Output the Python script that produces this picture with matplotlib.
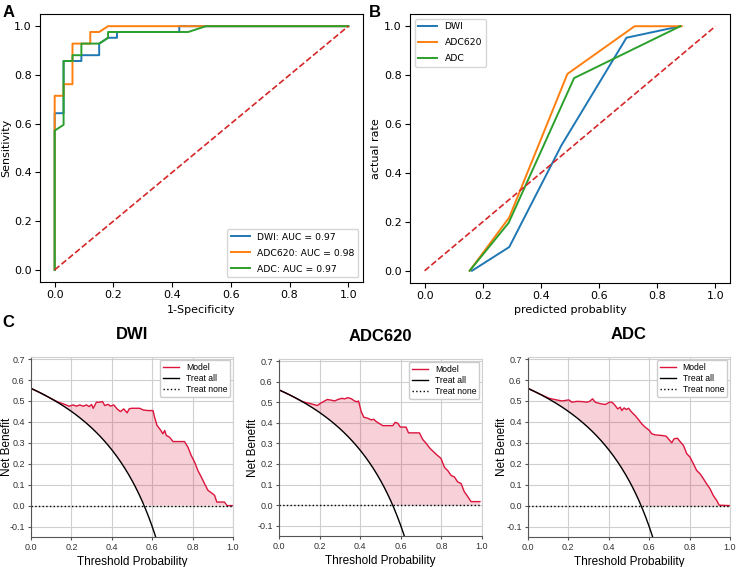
import numpy as np
import matplotlib
matplotlib.use('Agg')
import matplotlib.pyplot as plt

plt.rcParams['axes.unicode_minus'] = False

# ROC curves (33 negatives, 42 positives)
roc_names = ['DWI', 'ADC620', 'ADC']
roc_auc = [0.97, 0.98, 0.97]
dwi_fpr = np.array([0, 0, 1, 1, 3, 3, 5, 5, 6, 7, 7, 14, 14, 33]) / 33
dwi_tpr = np.array([0, 27, 27, 36, 36, 37, 37, 39, 40, 40, 41, 41, 42, 42]) / 42
adc620_fpr = np.array([0, 0, 1, 1, 2, 2, 4, 4, 5, 6, 33]) / 33
adc620_tpr = np.array([0, 30, 30, 32, 32, 39, 39, 41, 41, 42, 42]) / 42
adc_fpr = np.array([0, 0, 1, 1, 2, 2, 3, 3, 5, 6, 6, 15, 17, 33]) / 33
adc_tpr = np.array([0, 24, 25, 36, 36, 37, 37, 39, 39, 40, 41, 41, 42, 42]) / 42

# calibration curves
dwi_pred = [0.163, 0.291, 0.47, 0.694, 0.879]
dwi_actual = [0.0, 0.097, 0.512, 0.953, 1.0]
adc620_pred = [0.155, 0.291, 0.491, 0.722, 0.884]
adc620_actual = [0.0, 0.218, 0.805, 1.0, 1.0]
adc_pred = [0.155, 0.289, 0.514, 0.879]
adc_actual = [0.0, 0.196, 0.788, 1.0]

# decision curves
prevalence = 42 / 75
dwi_thr = [0, 0.05, 0.1, 0.135, 0.16, 0.189, 0.209, 0.225, 0.242, 0.258, 0.275, 0.288, 0.3, 0.308,
           0.324, 0.341, 0.354, 0.365, 0.382, 0.393, 0.41, 0.426, 0.443, 0.459, 0.476, 0.486, 0.497,
           0.538, 0.555, 0.579, 0.604, 0.612, 0.624, 0.64, 0.653, 0.662, 0.67, 0.686, 0.703, 0.76,
           0.777, 0.793, 0.81, 0.826, 0.843, 0.859, 0.876, 0.892, 0.909, 0.92, 0.958, 0.97, 1.0]
dwi_nb = [0.56, 0.537, 0.511, 0.494, 0.486, 0.475, 0.481, 0.475, 0.481, 0.475, 0.481, 0.473, 0.483, 0.465,
          0.494, 0.494, 0.497, 0.478, 0.484, 0.475, 0.481, 0.462, 0.449, 0.462, 0.443, 0.462, 0.465,
          0.465, 0.457, 0.454, 0.454, 0.422, 0.383, 0.363, 0.343, 0.359, 0.335, 0.327, 0.306, 0.306,
          0.279, 0.24, 0.208, 0.168, 0.137, 0.105, 0.073, 0.062, 0.049, 0.017, 0.017, 0.0, 0.0]
adc620_thr = [0, 0.05, 0.1, 0.118, 0.151, 0.189, 0.208, 0.238, 0.257, 0.274, 0.29, 0.31, 0.323, 0.339,
              0.356, 0.372, 0.385, 0.392, 0.405, 0.418, 0.438, 0.454, 0.467, 0.479, 0.511, 0.561, 0.572,
              0.585, 0.598, 0.626, 0.638, 0.692, 0.708, 0.725, 0.741, 0.757, 0.779, 0.798, 0.815, 0.831,
              0.848, 0.864, 0.88, 0.897, 0.913, 0.93, 0.946, 0.99]
adc620_nb = [0.56, 0.537, 0.511, 0.502, 0.494, 0.484, 0.497, 0.513, 0.51, 0.506, 0.513, 0.519, 0.516, 0.522,
             0.517, 0.506, 0.502, 0.506, 0.454, 0.427, 0.422, 0.414, 0.417, 0.406, 0.386, 0.386, 0.402,
             0.398, 0.379, 0.379, 0.351, 0.351, 0.319, 0.3, 0.279, 0.263, 0.243, 0.227, 0.184, 0.168,
             0.144, 0.137, 0.113, 0.105, 0.065, 0.041, 0.017, 0.017]
adc_thr = [0, 0.05, 0.103, 0.136, 0.169, 0.202, 0.218, 0.243, 0.267, 0.292, 0.305, 0.32, 0.333, 0.358,
           0.383, 0.404, 0.416, 0.432, 0.444, 0.457, 0.465, 0.476, 0.486, 0.498, 0.514, 0.531, 0.547,
           0.564, 0.58, 0.601, 0.613, 0.63, 0.662, 0.684, 0.695, 0.712, 0.723, 0.74, 0.753, 0.77, 0.786,
           0.802, 0.819, 0.835, 0.852, 0.868, 0.884, 0.901, 0.917, 0.934, 0.947, 1.0]
adc_nb = [0.56, 0.537, 0.513, 0.506, 0.5, 0.505, 0.494, 0.498, 0.497, 0.494, 0.498, 0.51, 0.494, 0.487,
          0.483, 0.494, 0.494, 0.478, 0.462, 0.47, 0.454, 0.467, 0.459, 0.465, 0.446, 0.43, 0.411,
          0.39, 0.375, 0.359, 0.343, 0.338, 0.335, 0.332, 0.319, 0.3, 0.319, 0.322, 0.306, 0.287, 0.248,
          0.232, 0.2, 0.168, 0.152, 0.129, 0.105, 0.081, 0.049, 0.025, 0.002, 0.0]

fig = plt.figure(figsize=(7.38, 5.67), dpi=100)

# A: ROC
ax = fig.add_axes([0.0542, 0.5026, 0.4377, 0.4727])
for fpr, tpr, name, auc in zip([dwi_fpr, adc620_fpr, adc_fpr], [dwi_tpr, adc620_tpr, adc_tpr], roc_names, roc_auc):
    ax.plot(fpr, tpr, lw=1.4, label='%s: AUC = %.2f' % (name, auc))
ax.plot([0, 1], [0, 1], '--', color='#d62728', lw=1.2)
ax.set_xlabel('1-Specificity', fontsize=8, labelpad=3)
ax.set_ylabel('Sensitivity', fontsize=8)
ax.yaxis.set_label_coords(-0.088, 0.5)
ax.tick_params(labelsize=8, pad=2.5)
ax.legend(loc='lower right', fontsize=6.7, labelspacing=0.75, handlelength=2.0)

# B: calibration
ax = fig.add_axes([0.5556, 0.5009, 0.4336, 0.4744])
ax.plot(dwi_pred, dwi_actual, lw=1.4, label='DWI')
ax.plot(adc620_pred, adc620_actual, lw=1.4, label='ADC620')
ax.plot(adc_pred, adc_actual, lw=1.4, label='ADC')
ax.plot([0, 1], [0, 1], '--', color='#d62728', lw=1.2)
ax.set_xlabel('predicted probablity', fontsize=8, labelpad=3)
ax.set_ylabel('actual rate', fontsize=8)
ax.yaxis.set_label_coords(-0.09, 0.5)
ax.tick_params(labelsize=8, pad=2.5)
ax.legend(loc='upper left', fontsize=6.7, labelspacing=0.75, handlelength=2.0)

fig.text(0.003, 0.978, 'A', fontsize=12, fontweight='bold', family='Liberation Sans', va='center')
fig.text(0.5, 0.978, 'B', fontsize=12, fontweight='bold', family='Liberation Sans', va='center')
fig.text(0.003, 0.431, 'C', fontsize=12, fontweight='bold', family='Liberation Sans', va='center')

# C: decision curves
dca_boxes = [[0.042, 0.0529, 0.2737, 0.3175], [0.378, 0.0547, 0.2751, 0.3122], [0.7154, 0.0529, 0.2737, 0.3175]]
dca_label_x = [-0.089, -0.098, -0.099]
dca_data = [(dwi_thr, dwi_nb, 'DWI'), (adc620_thr, adc620_nb, 'ADC620'), (adc_thr, adc_nb, 'ADC')]
for box, lx, (thr, nb, title) in zip(dca_boxes, dca_label_x, dca_data):
    ax = fig.add_axes(box)
    thr = np.array(thr)
    nb = np.array(nb)
    t_all = np.linspace(0, 0.7, 300)
    nb_all = prevalence - (1 - prevalence) * t_all / (1 - t_all)
    ax.plot(thr, nb, color='crimson', lw=1, label='Model')
    ax.plot(t_all, nb_all, color='black', lw=1, label='Treat all')
    ax.plot([0, 1], [0, 0], color='black', ls=':', lw=1, label='Treat none')
    base = np.maximum(prevalence - (1 - prevalence) * thr / (1 - thr), 0)
    ax.fill_between(thr, nb, base, where=nb > base, color='crimson', alpha=0.2, lw=0)
    ax.set_xlim(0, 1)
    ax.set_ylim(-0.15, 0.71)
    ax.set_xticks([0, 0.2, 0.4, 0.6, 0.8, 1.0])
    ax.set_yticks([-0.1, 0, 0.1, 0.2, 0.3, 0.4, 0.5, 0.6, 0.7])
    ax.grid(True, color='#cfcfcf', lw=0.8)
    ax.set_axisbelow(True)
    for s in ['top', 'right']:
        ax.spines[s].set_color('#d0d0d0')
    for s in ['left', 'bottom']:
        ax.spines[s].set_color('#555555')
    ax.tick_params(labelsize=6.5, length=2.5, width=0.8, color='#555555', labelcolor='#333333', pad=2)
    for lab in ax.get_xticklabels() + ax.get_yticklabels():
        lab.set_family('Liberation Sans')
    ax.set_xlabel('Threshold Probability', fontsize=8.5, family='Liberation Sans', labelpad=3)
    ax.set_ylabel('Net Benefit', fontsize=8.5, family='Liberation Sans')
    ax.yaxis.set_label_coords(lx, 0.5)
    ax.set_title(title, fontsize=12, fontweight='bold', family='Liberation Sans', pad=13)
    ax.legend(loc='upper right', prop={'family': 'Liberation Sans', 'size': 6.2}, handlelength=1.8,
              borderaxespad=0.3, labelspacing=0.25, borderpad=0.35, framealpha=1)

plt.savefig('out.png', dpi=100)
